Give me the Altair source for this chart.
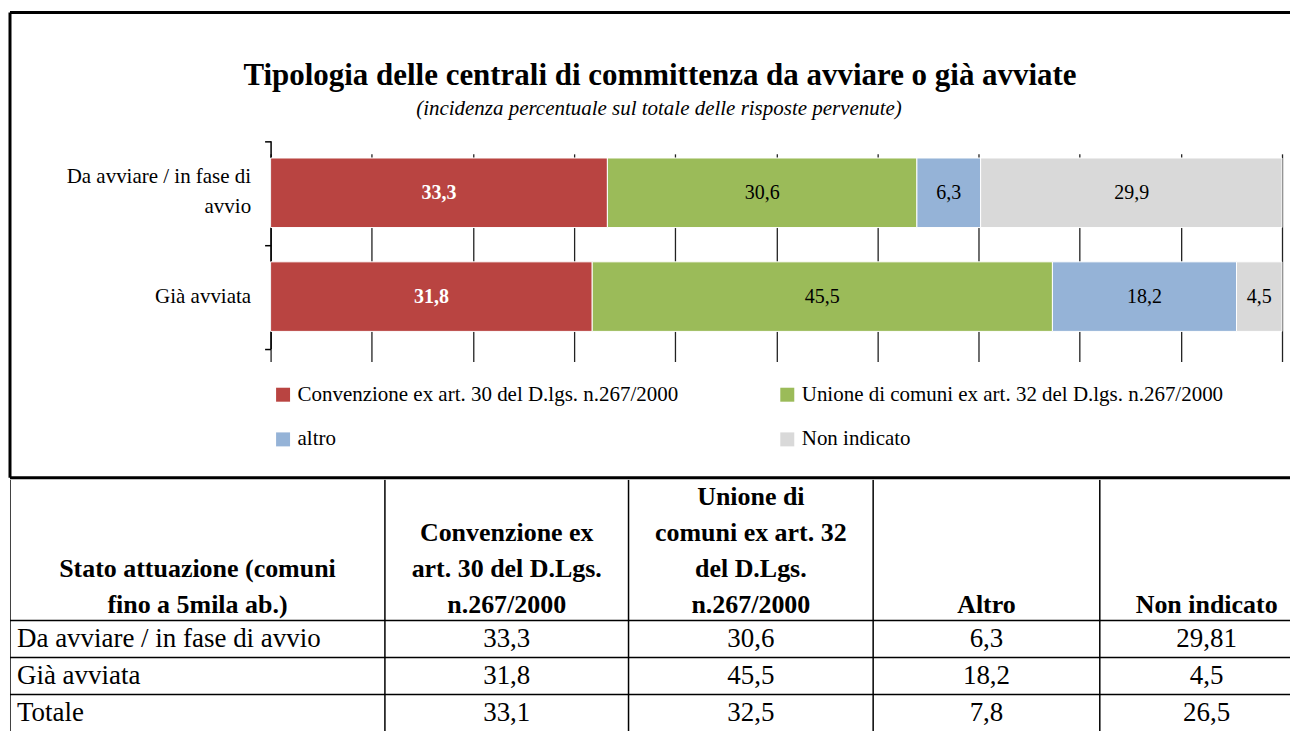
import altair as alt
import pandas as pd

FONT = "Liberation Serif"

# ---- chart data ----
titolo = "Tipologia delle centrali di committenza da avviare o già avviate"
sottotitolo = "(incidenza percentuale sul totale delle risposte pervenute)"
stati = ["Da avviare / in fase di avvio", "Già avviata"]
tipologie = [
    "Convenzione ex art. 30 del D.lgs. n.267/2000",
    "Unione di comuni ex art. 32 del D.lgs. n.267/2000",
    "altro",
    "Non indicato",
]
convenzione = [33.3, 31.8]
unione = [30.6, 45.5]
altro = [6.3, 18.2]
non_indicato = [29.9, 4.5]
griglia_x = [0, 10, 20, 30, 40, 50, 60, 70, 80, 90, 100]
colori = ["#B94441", "#9BBB59", "#95B3D7", "#D9D9D9"]

# ---- table data ----
tab_intestazioni = [
    "Stato attuazione (comuni\nfino a 5mila ab.)",
    "Convenzione ex\nart. 30 del D.Lgs.\nn.267/2000",
    "Unione di\ncomuni ex art. 32\ndel D.Lgs.\nn.267/2000",
    "Altro",
    "Non indicato",
]
tab_righe = ["Da avviare / in fase di avvio", "Già avviata", "Totale"]
tab_convenzione = [33.3, 31.8, 33.1]
tab_unione = [30.6, 45.5, 32.5]
tab_altro = [6.3, 18.2, 7.8]
tab_non_indicato = [29.81, 4.5, 26.5]

W = 1282
TOP = -12     # top edge of the frame, relative to the plot group
H = 454       # bottom edge of the frame
TH = 252

# ---------------- bar chart (inside the framed box) ----------------
serie = [convenzione, unione, altro, non_indicato]
righe_barre = []
for i, s in enumerate(stati):
    for k, t in enumerate(tipologie):
        righe_barre.append({"stato": s, "tipologia": t, "ordine": k, "valore": serie[k][i]})
df = pd.DataFrame(righe_barre)

xscale = alt.Scale(domain=[0, 100], range=[261, 1274], nice=False, zero=False, clamp=True)
yscale = alt.Scale(domain=stati, range=[116.5, 324.5], paddingInner=0, paddingOuter=0)

base = alt.Chart(df).transform_stack(
    stack="valore", groupby=["stato"], sort=[alt.SortField("ordine", order="ascending")], as_=["x0", "x1"]
).transform_calculate(
    xm="(datum.x0 + datum.x1) / 2",
    etichetta="replace(format(datum.valore, '.1f'), '.', ',')",
)

bars = base.mark_bar(height={"band": 0.67}, stroke="white", strokeWidth=1).encode(
    x=alt.X(
        "x0:Q",
        scale=xscale,
        axis=alt.Axis(
            values=griglia_x, grid=True, labels=False, ticks=False, domain=False, title=None,
            gridColor="#222222", gridWidth=1.3,
        ),
    ),
    x2="x1:Q",
    y=alt.Y(
        "stato:N",
        scale=yscale,
        axis=alt.Axis(
            title=None, offset=-261, tickBand="extent", tickSize=6, tickColor="black", tickWidth=1.5,
            domainColor="black", domainWidth=1.5, labelFont=FONT, labelFontSize=21, labelColor="black",
            labelPadding=14, labelLineHeight=30, labelLimit=400, labelAlign="right",
            labelOffset={"condition": {"test": "datum.value == 'Da avviare / in fase di avvio'", "value": -16}, "value": 0},
            labelExpr="datum.label == 'Da avviare / in fase di avvio' ? ['Da avviare / in fase di', 'avvio'] : datum.label",
        ),
    ),
    color=alt.Color(
        "tipologia:N",
        scale=alt.Scale(domain=tipologie, range=colori),
        legend=alt.Legend(
            title=None, orient="none", legendX=263, legendY=360, columns=2, direction="horizontal",
            symbolType="square", symbolSize=196, symbolStrokeWidth=0, labelFont=FONT, labelFontSize=21,
            labelColor="black", columnPadding=98, rowPadding=23, labelLimit=700, labelOffset=4,
        ),
    ),
)

lab_bianche = base.transform_filter("datum.ordine == 0").mark_text(
    color="white", fontWeight="bold", font=FONT, fontSize=20, baseline="middle"
).encode(x=alt.X("xm:Q", scale=xscale), y=alt.Y("stato:N", scale=yscale), text="etichetta:N")

lab_nere = base.transform_filter("datum.ordine > 0").mark_text(
    color="black", font=FONT, fontSize=20, baseline="middle"
).encode(x=alt.X("xm:Q", scale=xscale), y=alt.Y("stato:N", scale=yscale), text="etichetta:N")

cornice = alt.Chart(alt.Data(values=[{"c": 1}]))
bordo_sx = cornice.mark_rule(color="black", strokeWidth=3).encode(
    x=alt.value(0), y=alt.value(TOP), y2=alt.value(H)
)
bordo_su = cornice.mark_rule(color="black", strokeWidth=3).encode(
    x=alt.value(0), x2=alt.value(W), y=alt.value(TOP)
)
bordo_giu = cornice.mark_rule(color="black", strokeWidth=3).encode(
    x=alt.value(0), x2=alt.value(W), y=alt.value(H)
)
testo_titolo = cornice.mark_text(
    font=FONT, fontSize=31, fontWeight="bold", color="black", align="center", baseline="middle"
).encode(x=alt.value(651), y=alt.value(51.5), text=alt.value(titolo))
testo_sottotitolo = cornice.mark_text(
    font=FONT, fontSize=21, fontStyle="italic", color="black", align="center", baseline="middle"
).encode(x=alt.value(650), y=alt.value(84.5), text=alt.value(sottotitolo))

grafico = alt.layer(
    bars, lab_bianche, lab_nere, bordo_sx, bordo_su, bordo_giu, testo_titolo, testo_sottotitolo
).properties(width=W, height=H)

# ---------------- table ----------------
def fmt(v):
    return str(v).replace(".", ",")

valori_tab = [tab_convenzione, tab_unione, tab_altro, tab_non_indicato]
celle = []
for r, nome in enumerate(tab_righe):
    celle.append({"col": 0, "riga": r + 1, "testo": nome})
    for c in range(4):
        celle.append({"col": c + 1, "riga": r + 1, "testo": fmt(valori_tab[c][r])})
df_celle = pd.DataFrame(celle)

righe_int = []
for c, t in enumerate(tab_intestazioni):
    linee = t.split("\n")
    for j, linea in enumerate(reversed(linee)):
        righe_int.append({"col": c, "testo": linea, "dal_fondo": j})
df_int = pd.DataFrame(righe_int)
df_vert = pd.DataFrame({"e": [0, 1, 2, 3, 4]})
df_oriz = pd.DataFrame({"r": [1, 2, 3]})

tx = alt.Scale(type="linear", domain=[0, 1, 2, 3, 4, 5], range=[0, 375.5, 619.5, 864.5, 1091.5, 1305.5], zero=False, nice=False)
ty = alt.Scale(type="linear", domain=[0, 1, 2, 3, 4], range=[0, 141, 178, 215, 252], zero=False, nice=False)

t_sx = alt.Chart(df_celle).transform_filter("datum.col == 0").transform_calculate(
    ym="datum.riga + 0.5"
).mark_text(align="left", baseline="middle", dx=7, font=FONT, fontSize=27, color="black").encode(
    x=alt.X("col:Q", scale=tx, axis=None), y=alt.Y("ym:Q", scale=ty, axis=None), text="testo:N"
)
t_val = alt.Chart(df_celle).transform_filter("datum.col > 0").transform_calculate(
    xm="datum.col + 0.5", ym="datum.riga + 0.5"
).mark_text(align="center", baseline="middle", font=FONT, fontSize=27, color="black").encode(
    x=alt.X("xm:Q", scale=tx, axis=None), y=alt.Y("ym:Q", scale=ty, axis=None), text="testo:N"
)
t_int = alt.Chart(df_int).transform_calculate(
    xm="datum.col + 0.5", yb="1 - datum.dal_fondo * 0.2553"
).mark_text(
    align="center", baseline="middle", dy=-16, font=FONT, fontSize=26, fontWeight="bold", color="black",
).encode(x=alt.X("xm:Q", scale=tx, axis=None), y=alt.Y("yb:Q", scale=ty, axis=None), text="testo:N")

linee_v = alt.Chart(df_vert).transform_calculate(ya="0", yz="4").mark_rule(
    color="black", strokeWidth=1.5, clip=True
).encode(
    x=alt.X("e:Q", scale=tx, axis=None),
    y=alt.Y("ya:Q", scale=ty, axis=None),
    y2="yz:Q",
)
linee_o = alt.Chart(df_oriz).transform_calculate(xa="0", xz="5").mark_rule(
    color="black", strokeWidth=1.5, clip=True
).encode(
    y=alt.Y("r:Q", scale=ty, axis=None),
    x=alt.X("xa:Q", scale=tx, axis=None),
    x2="xz:Q",
)

tabella = alt.layer(linee_v, linee_o, t_int, t_sx, t_val).properties(width=W, height=TH)

chart = alt.vconcat(grafico, tabella, spacing=0).properties(
    padding={"top": 2, "left": 0, "right": 0, "bottom": 0}
).configure_view(stroke=None)

chart.save("out.html", embed_options={"renderer": "svg", "actions": False})
